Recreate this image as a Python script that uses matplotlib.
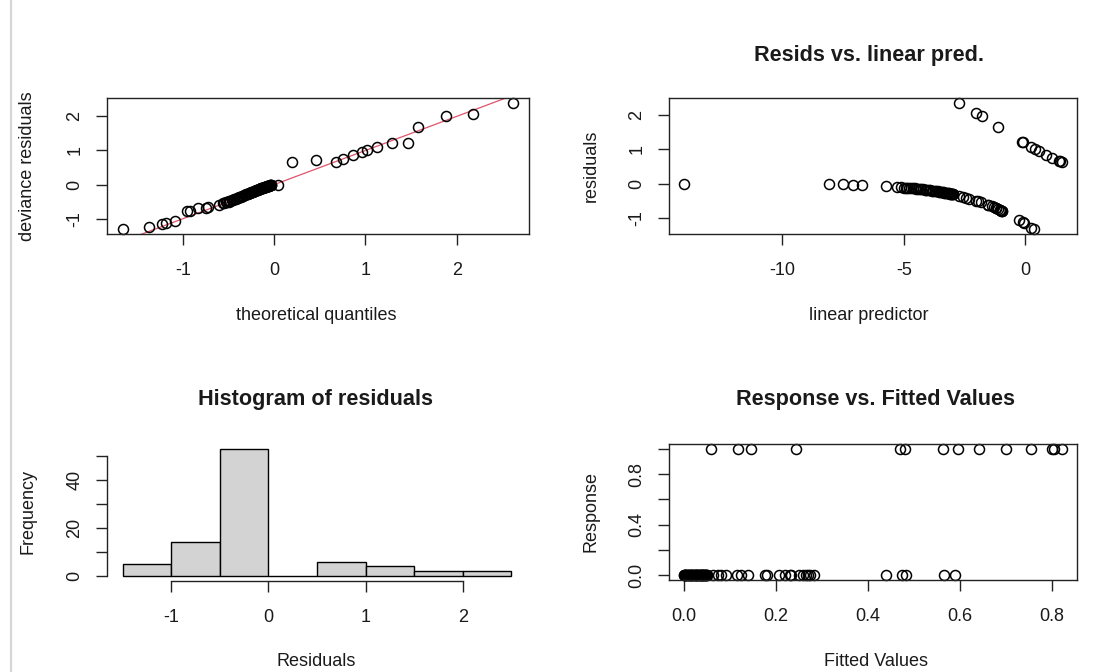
import matplotlib
matplotlib.use("Agg")
import matplotlib.pyplot as plt
from matplotlib.lines import Line2D
import numpy as np

# ---- data ----
# top left: qq plot of deviance residuals
qq_theory = [-1.66, -1.37, -1.23, -1.19, -1.09, -0.96, -0.92, -0.83, -0.75, -0.72, -0.60,
             -0.56, -0.55, -0.53, -0.52, -0.50, -0.49, -0.48, -0.46, -0.45, -0.44,
             -0.42, -0.41, -0.40, -0.39, -0.37, -0.36, -0.35, -0.34, -0.33, -0.32,
             -0.31, -0.30, -0.29, -0.28, -0.27, -0.26, -0.25, -0.24, -0.23, -0.22,
             -0.21, -0.21, -0.20, -0.19, -0.18, -0.17, -0.17, -0.16, -0.15, -0.14,
             -0.14, -0.13, -0.12, -0.12, -0.11, -0.10, -0.10, -0.09, -0.09, -0.08,
             -0.08, -0.07, -0.07, -0.06, -0.06, -0.05, -0.05, -0.04, -0.04, -0.03,
             0.04,
             0.20, 0.46, 0.68, 0.75, 0.86, 0.96, 1.02, 1.13, 1.29, 1.47, 1.58, 1.88, 2.18, 2.62]
qq_resid = [-1.30, -1.24, -1.16, -1.12, -1.06, -0.77, -0.77, -0.70, -0.68, -0.65, -0.60,
            -0.55, -0.54, -0.52, -0.51, -0.50, -0.48, -0.47, -0.45, -0.44, -0.43,
            -0.41, -0.40, -0.38, -0.37, -0.36, -0.35, -0.33, -0.32, -0.31, -0.30,
            -0.29, -0.28, -0.27, -0.26, -0.25, -0.24, -0.23, -0.22, -0.21, -0.20,
            -0.19, -0.18, -0.17, -0.16, -0.15, -0.14, -0.14, -0.13, -0.12, -0.11,
            -0.11, -0.10, -0.09, -0.09, -0.08, -0.07, -0.07, -0.06, -0.06, -0.05,
            -0.05, -0.04, -0.04, -0.03, -0.03, -0.02, -0.02, -0.01, -0.01, -0.01,
            0.00,
            0.66, 0.71, 0.66, 0.76, 0.86, 0.95, 1.00, 1.10, 1.23, 1.23, 1.68, 2.00, 2.07, 2.39]

# top right: residuals vs linear predictor
lin_pred = [-14.05, -8.06, -7.50, -7.10, -6.70, -5.74,
            -5.27, -5.10, -5.00, -4.92, -4.85, -4.78, -4.70, -4.62, -4.55, -4.48,
            -4.40, -4.33, -4.27, -4.20, -4.14, -4.08, -4.02, -3.96, -3.90, -3.84,
            -3.78, -3.72, -3.66, -3.60, -3.55, -3.50, -3.45, -3.40, -3.36, -3.32,
            -3.28, -3.24, -3.20, -3.17, -3.14, -3.11, -3.08, -3.05, -3.02, -3.00,
            -2.97, -2.95,
            -2.70, -2.55, -2.45, -2.30, -2.04,
            -1.95, -1.83, -1.54, -1.52, -1.35, -1.27, -1.20, -1.19, -1.10, -1.05,
            -1.02, -0.99, -0.95, -0.93,
            -0.24, -0.09, -0.04, 0.26, 0.36,
            -2.72, -2.00, -1.79, -1.13, -0.12, -0.08, 0.25, 0.40, 0.58, 0.85,
            1.12, 1.39, 1.45, 1.52]
lp_resid = [-0.00, -0.02, -0.02, -0.03, -0.03, -0.06,
            -0.10, -0.11, -0.12, -0.12, -0.12, -0.13, -0.13, -0.14, -0.14, -0.15,
            -0.16, -0.16, -0.17, -0.17, -0.18, -0.18, -0.19, -0.20, -0.20, -0.21,
            -0.21, -0.22, -0.23, -0.23, -0.24, -0.24, -0.25, -0.26, -0.26, -0.27,
            -0.27, -0.28, -0.28, -0.29, -0.29, -0.30, -0.30, -0.31, -0.31, -0.31,
            -0.32, -0.32,
            -0.36, -0.39, -0.41, -0.44, -0.50,
            -0.51, -0.54, -0.62, -0.62, -0.67, -0.69, -0.71, -0.72, -0.75, -0.77,
            -0.78, -0.79, -0.80, -0.81,
            -1.08, -1.14, -1.16, -1.29, -1.33,
            2.36, 2.07, 1.98, 1.67, 1.23, 1.21, 1.07, 1.02, 0.94, 0.85,
            0.75, 0.67, 0.66, 0.63]

# bottom left: histogram of residuals
hist_edges = [-1.5, -1.0, -0.5, 0.0, 0.5, 1.0, 1.5, 2.0, 2.5]
hist_counts = [5, 14, 53, 0, 6, 4, 2, 2]

# bottom right: response vs fitted
fitted = [0.000, 0.000, 0.001, 0.002, 0.003, 0.004, 0.005, 0.006, 0.008, 0.009,
          0.010, 0.011, 0.012, 0.014, 0.015, 0.016, 0.017, 0.018, 0.019, 0.021,
          0.022, 0.023, 0.024, 0.025, 0.026, 0.027, 0.028, 0.029, 0.031, 0.032,
          0.033, 0.034, 0.035, 0.036, 0.037, 0.038, 0.039, 0.040, 0.041, 0.042,
          0.043, 0.044, 0.045, 0.046, 0.047, 0.048, 0.049, 0.050,
          0.063, 0.074, 0.081, 0.092, 0.116,
          0.124, 0.138, 0.177, 0.180, 0.206, 0.220, 0.231, 0.233, 0.249, 0.259,
          0.265, 0.270, 0.275, 0.282,
          0.440, 0.475, 0.483, 0.565, 0.590,
          0.059, 0.118, 0.146, 0.243, 0.469, 0.480, 0.563, 0.597, 0.642, 0.700,
          0.754, 0.800, 0.805, 0.822]
response = [0] * 72 + [1] * 14

W, H = 1099, 672
plt.rcParams['font.family'] = ['Liberation Sans', 'DejaVu Sans']
plt.rcParams['axes.unicode_minus'] = False
fig = plt.figure(figsize=(W / 100, H / 100), dpi=100)

FS = 13
TXT = '#1a1a1a'


def px_axes(x0, y0, x1, y1):
    return fig.add_axes([x0 / W, 1 - y1 / H, (x1 - x0) / W, (y1 - y0) / H])


def r_style(ax):
    for s in ax.spines.values():
        s.set_linewidth(1.0)
        s.set_color('#222222')
    ax.tick_params(direction='out', length=8, width=1.0, color='#222222',
                   labelsize=FS, labelcolor=TXT)
    ax.tick_params(axis='x', pad=12)
    ax.tick_params(axis='y', pad=9)
    plt.setp(ax.get_yticklabels(), rotation=90, va='center')


def r_lim(vals, frac=0.04):
    lo, hi = min(vals), max(vals)
    d = (hi - lo) * frac
    return lo - d, hi + d


def ftext(x, y, s, **kw):
    fig.text(x / W, 1 - y / H, s, ha='center', va='center', color=TXT, **kw)


def circles(ax, x, y):
    ax.plot(x, y, 'o', ms=7.2, mfc='none', mec='black', mew=1.1, clip_on=False)


# -- qq plot
ax1 = px_axes(107, 98, 529, 234)
circles(ax1, qq_theory, qq_resid)
ax1.set_xlim(*r_lim(qq_theory))
ax1.set_ylim(*r_lim(qq_resid))
ax1.plot([-3, 3], [-3, 3], color='#DF536B', lw=0.9, zorder=1)
ax1.set_xticks([-1, 0, 1, 2])
ax1.set_yticks([-1, 0, 1, 2])
r_style(ax1)
ftext(316, 316, 'theoretical quantiles', fontsize=FS)
ftext(28, 166, 'deviance residuals', fontsize=FS, rotation=90)

# -- residuals vs linear predictor
ax2 = px_axes(669, 98, 1077, 234)
circles(ax2, lin_pred, lp_resid)
ax2.set_xlim(*r_lim(lin_pred))
ax2.set_ylim(*r_lim(lp_resid))
ax2.set_xticks([-10, -5, 0])
ax2.set_yticks([-1, 0, 1, 2])
r_style(ax2)
ftext(869, 55, 'Resids vs. linear pred.', fontsize=FS * 1.2, fontweight='bold')
ftext(869, 316, 'linear predictor', fontsize=FS)
ftext(591, 166, 'residuals', fontsize=FS, rotation=90)

# -- histogram
ax3 = px_axes(107, 444, 527, 581)
ax3.bar(hist_edges[:-1], hist_counts, width=0.5, align='edge',
        color='#D3D3D3', edgecolor='black', linewidth=1.0)
ax3.set_xlim(hist_edges[0] - 0.16, hist_edges[-1] + 0.16)
ax3.set_ylim(-0.04 * max(hist_counts), 1.04 * max(hist_counts))
ax3.set_xticks([-1, 0, 1, 2])
ax3.set_yticks([0, 10, 20, 30, 40, 50], labels=['0', '', '20', '', '40', ''])
ax3.spines['top'].set_visible(False)
ax3.spines['right'].set_visible(False)
ax3.spines['bottom'].set_bounds(-1, 2)
ax3.spines['left'].set_bounds(0, 50)
r_style(ax3)
ftext(316, 400, 'Histogram of residuals', fontsize=FS * 1.2, fontweight='bold')
ftext(316, 662, 'Residuals', fontsize=FS)
ftext(28, 512, 'Frequency', fontsize=FS, rotation=90)

# -- response vs fitted
ax4 = px_axes(669, 444, 1077, 580)
circles(ax4, fitted, response)
ax4.set_xlim(*r_lim(fitted))
ax4.set_ylim(*r_lim(response))
ax4.set_xticks([0.0, 0.2, 0.4, 0.6, 0.8])
ax4.set_yticks([0.0, 0.2, 0.4, 0.6, 0.8, 1.0],
               labels=['0.0', '', '0.4', '', '0.8', ''])
r_style(ax4)
ftext(876, 400, 'Response vs. Fitted Values', fontsize=FS * 1.2, fontweight='bold')
ftext(876, 662, 'Fitted Values', fontsize=FS)
ftext(591, 512, 'Response', fontsize=FS, rotation=90)

# thin grey border of the screenshot on the left
fig.add_artist(Line2D([11 / W, 11 / W], [0, 1], color='#d6d6d6', lw=1.6))

fig.savefig('out.png', dpi=100)
